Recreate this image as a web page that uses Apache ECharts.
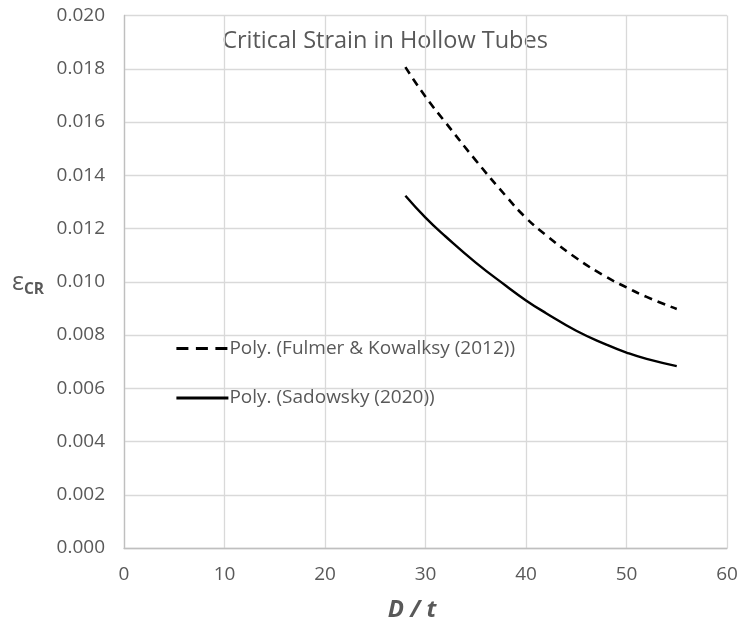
<!DOCTYPE html>
<html><head><meta charset="utf-8">
<script src="https://cdn.jsdelivr.net/npm/echarts@6/dist/echarts.min.js"></script>
<style>html,body{margin:0;padding:0;background:#fff}#c{width:742px;height:623px}</style>
</head><body><div id="c"></div>
<script>
const titleText = 'Critical Strain in Hollow Tubes';
const xTicks = [0, 10, 20, 30, 40, 50, 60];
const yTicks = [0, 0.002, 0.004, 0.006, 0.008, 0.010, 0.012, 0.014, 0.016, 0.018, 0.020];
const dt = [28, 30, 32, 35, 38, 40, 42, 45, 48, 50, 52, 55];
const fulmer = [0.01806, 0.01695, 0.01598, 0.01456, 0.01322, 0.0124, 0.01175, 0.01089, 0.01018, 0.00979, 0.00943, 0.00898];
const sadowsky = [0.01323, 0.01241, 0.0117, 0.01072, 0.00985, 0.0093, 0.00882, 0.00816, 0.00764, 0.00734, 0.0071, 0.00683];
const seriesNames = ['Poly. (Fulmer & Kowalksy (2012))', 'Poly. (Sadowsky (2020))'];

const FONT = 'Open Sans';
const TXT = '#595959';
const chart = echarts.init(document.getElementById('c'));
chart.setOption({
  animation: false,
  backgroundColor: '#fff',
  grid: { left: 124, right: 15, top: 15.5, bottom: 75, containLabel: false },
  xAxis: {
    type: 'value', min: xTicks[0], max: xTicks[xTicks.length-1], interval: 10,
    axisLine: { show: true, lineStyle: { color: '#bfbfbf', width: 1.3 } },
    axisTick: { show: false },
    splitLine: { show: true, lineStyle: { color: '#d9d9d9', width: 1.3 } },
    axisLabel: { color: TXT, fontFamily: FONT, fontSize: 19, margin: 17 }
  },
  yAxis: {
    type: 'value', min: yTicks[0], max: yTicks[yTicks.length-1], interval: 0.002,
    axisLine: { show: true, lineStyle: { color: '#bfbfbf', width: 1.3 } },
    axisTick: { show: false },
    splitLine: { show: true, lineStyle: { color: '#d9d9d9', width: 1.3 } },
    axisLabel: { color: TXT, fontFamily: FONT, fontSize: 19, margin: 19, formatter: v => v.toFixed(3) }
  },
  legend: {
    orient: 'vertical', left: 170, top: 334, itemWidth: 52, itemHeight: 22, itemGap: 30.5,
    itemStyle: { opacity: 0 },
    lineStyle: { width: 2.8 },
    textStyle: { color: TXT, fontFamily: FONT, fontSize: 19, padding: [2,0,0,-4] },
    data: [
      { name: seriesNames[0], lineStyle: { width: 2.8, type: [12, 7.5] } },
      { name: seriesNames[1] }
    ]
  },
  graphic: [
    { type: 'text', x: 385, y: 41, style: { text: titleText, fill: TXT, font: '23.5px "Open Sans"', textAlign: 'center', textVerticalAlign: 'middle' } },
    { type: 'text', x: 412, y: 610, style: { text: 'D / t', fill: TXT, font: 'italic bold 24px "Open Sans"', textAlign: 'center', textVerticalAlign: 'middle' } },
    { type: 'text', x: 12, y: 283, style: { rich: { e: { fontFamily: FONT, fontSize: 25, fill: TXT }, s: { fontFamily: FONT, fontSize: 15.5, fontWeight: 'bold', fill: TXT, padding: [13,0,0,0] } }, text: '{e|ε}{s|CR}', textVerticalAlign: 'middle' } }
  ],
  series: [
    { name: seriesNames[0], type: 'line', smooth: true, symbol: 'none', color: '#000',
      lineStyle: { color: '#000', width: 2.6, type: [8, 6] },
      data: dt.map((x, i) => [x, fulmer[i]]) },
    { name: seriesNames[1], type: 'line', smooth: true, symbol: 'none', color: '#000',
      lineStyle: { color: '#000', width: 2.4, type: 'solid' },
      data: dt.map((x, i) => [x, sadowsky[i]]) }
  ]
});
</script></body></html>
